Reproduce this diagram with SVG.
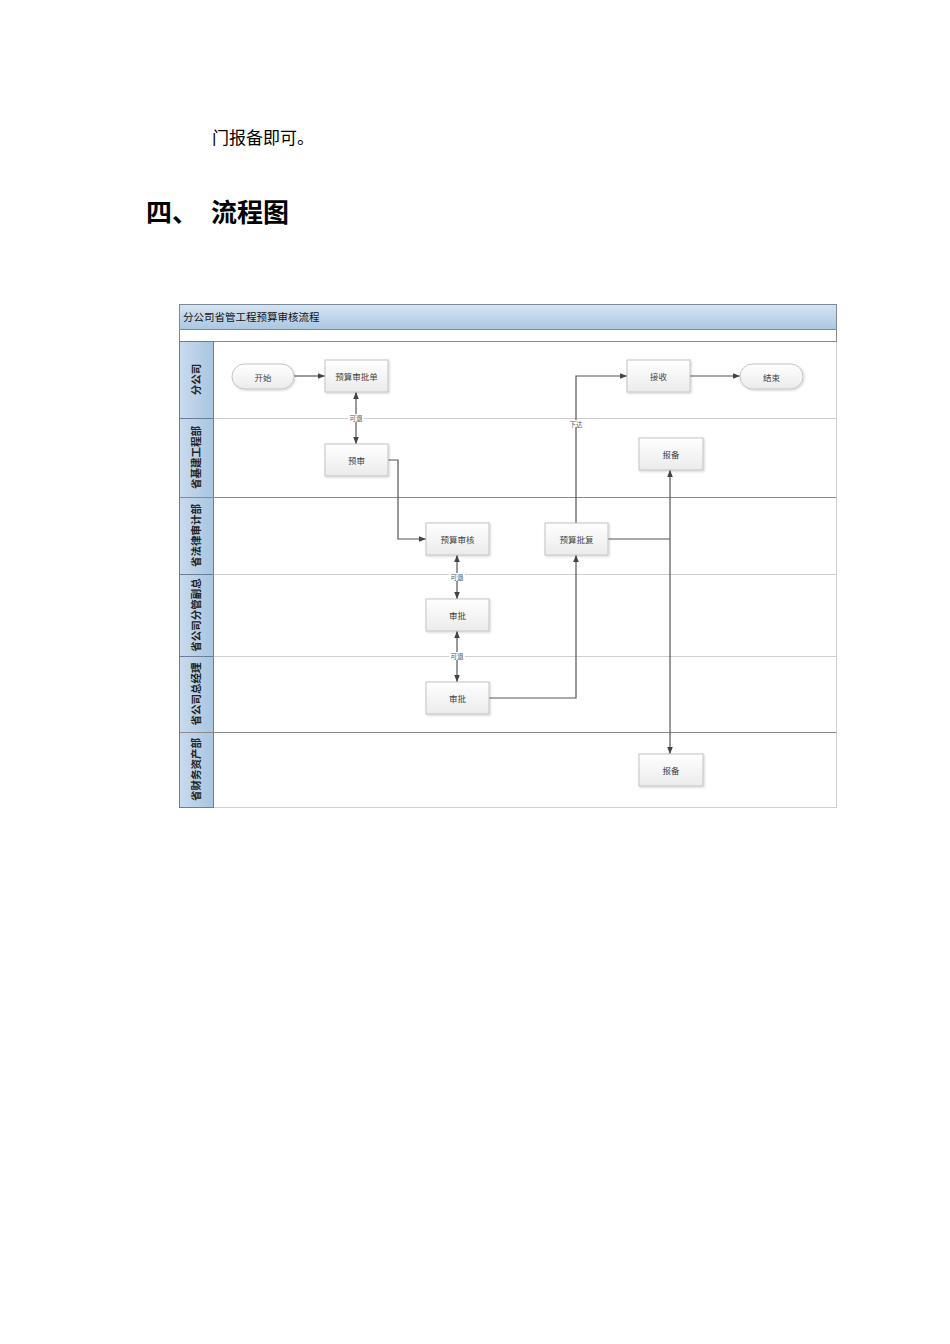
<svg xmlns="http://www.w3.org/2000/svg" width="950" height="1344" viewBox="0 0 950 1344">
<defs>
<linearGradient id="gTitle" x1="0" y1="0" x2="0" y2="1">
<stop offset="0" stop-color="#d6e4f1"/>
<stop offset="1" stop-color="#aac7e3"/>
</linearGradient>
<linearGradient id="gLane" x1="0" y1="0" x2="1" y2="0">
<stop offset="0" stop-color="#c9dbee"/>
<stop offset="1" stop-color="#a9c5e1"/>
</linearGradient>
<linearGradient id="gNode" x1="0" y1="0" x2="0" y2="1">
<stop offset="0" stop-color="#ffffff"/>
<stop offset="1" stop-color="#ebebeb"/>
</linearGradient>
<marker id="arr" viewBox="0 0 10 10" refX="10" refY="5" markerWidth="7" markerHeight="7" orient="auto-start-reverse" markerUnits="userSpaceOnUse">
<path d="M0,1 L10,5 L0,9 Z" fill="#444"/>
</marker>
<filter id="sh" x="-10%" y="-10%" width="125%" height="130%">
<feDropShadow dx="1" dy="1" stdDeviation="0.8" flood-color="#000" flood-opacity="0.18"/>
</filter>
</defs>
<style>
.doc{font-family:"Liberation Serif","Noto Sans CJK SC",serif;fill:#000}
.h{font-family:"Noto Sans CJK SC",sans-serif;font-weight:bold;fill:#000}
.title{font-family:"Noto Sans CJK SC",sans-serif;font-size:10.5px;fill:#111}
.lane{font-family:"Noto Sans CJK SC",sans-serif;font-size:10.5px;font-weight:bold;fill:#222}
.box{fill:url(#gNode);stroke:#c4c4c4;stroke-width:1;filter:url(#sh)}
.nt{font-family:"Noto Sans CJK SC",sans-serif;font-size:8.5px;fill:#444;text-anchor:middle;dominant-baseline:central}
.c{fill:none;stroke:#555;stroke-width:1.2}
.lbl{font-family:"Noto Sans CJK SC",sans-serif;font-size:6.5px;fill:#555;text-anchor:middle;dominant-baseline:central}
</style>
<rect width="950" height="1344" fill="#fff"/>
<text class="doc" x="212" y="144" font-size="17">门报备即可。</text>
<text class="h" x="146" y="222" font-size="26">四、</text>
<text class="h" x="211" y="222" font-size="26">流程图</text>

<g id="pool">
<rect x="179.5" y="304.5" width="657" height="503" fill="#fff" stroke="#cfcfcf"/>
<rect x="179.5" y="304.5" width="657" height="25" fill="url(#gTitle)" stroke="#7a8a9a"/>
<text class="title" x="183" y="320.5">分公司省管工程预算审核流程</text>
<rect x="179.5" y="329.5" width="657" height="12" fill="#fff" stroke="#888"/>
<rect x="179.5" y="341.5" width="34" height="466" fill="url(#gLane)" stroke="#6a7f95"/>
<line x1="213.5" y1="418.5" x2="836.5" y2="418.5" stroke="#cfcfcf"/>
<line x1="179.5" y1="418.5" x2="213.5" y2="418.5" stroke="#6a7f95"/>
<line x1="179.5" y1="497.5" x2="836.5" y2="497.5" stroke="#8a8a8a"/>
<line x1="213.5" y1="574.5" x2="836.5" y2="574.5" stroke="#cfcfcf"/>
<line x1="179.5" y1="574.5" x2="213.5" y2="574.5" stroke="#6a7f95"/>
<line x1="213.5" y1="656.5" x2="836.5" y2="656.5" stroke="#cfcfcf"/>
<line x1="179.5" y1="656.5" x2="213.5" y2="656.5" stroke="#6a7f95"/>
<line x1="179.5" y1="732.5" x2="836.5" y2="732.5" stroke="#8a8a8a"/>
<line x1="179.5" y1="341.5" x2="179.5" y2="807.5" stroke="#6a7f95"/>
</g>

<g id="lanes">
<text class="lane" transform="translate(200,379.5) rotate(-90)" text-anchor="middle">分公司</text>
<text class="lane" transform="translate(200,457.5) rotate(-90)" text-anchor="middle">省基建工程部</text>
<text class="lane" transform="translate(200,535.5) rotate(-90)" text-anchor="middle">省法律审计部</text>
<text class="lane" transform="translate(200,615) rotate(-90)" text-anchor="middle">省公司分管副总</text>
<text class="lane" transform="translate(200,694) rotate(-90)" text-anchor="middle">省公司总经理</text>
<text class="lane" transform="translate(200,769.5) rotate(-90)" text-anchor="middle">省财务资产部</text>
</g>

<g id="connectors">
<line class="c" x1="294" y1="376" x2="325" y2="376" marker-end="url(#arr)"/>
<line class="c" x1="356" y1="392" x2="356" y2="444" marker-start="url(#arr)" marker-end="url(#arr)"/>
<polyline class="c" points="388,460 398,460 398,539 426,539" marker-end="url(#arr)"/>
<line class="c" x1="457" y1="555" x2="457" y2="599" marker-start="url(#arr)" marker-end="url(#arr)"/>
<line class="c" x1="457" y1="631" x2="457" y2="682" marker-start="url(#arr)" marker-end="url(#arr)"/>
<polyline class="c" points="489,698 576,698 576,555" marker-end="url(#arr)"/>
<polyline class="c" points="576,523 576,376 627,376" marker-end="url(#arr)"/>
<line class="c" x1="690" y1="376" x2="740" y2="376" marker-end="url(#arr)"/>
<line class="c" x1="608" y1="539" x2="670" y2="539"/>
<line class="c" x1="670" y1="470" x2="670" y2="754" marker-start="url(#arr)" marker-end="url(#arr)"/>
<rect x="348" y="414" width="16" height="8" fill="#fff"/>
<text class="lbl" x="356" y="418">可退</text>
<rect x="449" y="573" width="16" height="8" fill="#fff"/>
<text class="lbl" x="457" y="577">可退</text>
<rect x="449" y="652" width="16" height="8" fill="#fff"/>
<text class="lbl" x="457" y="656">可退</text>
<rect x="568" y="420" width="16" height="7" fill="#fff"/>
<text class="lbl" x="576" y="424">下达</text>
</g>

<g id="n-start"><rect class="box" x="232" y="364" width="62" height="25" rx="12.5"/><text class="nt" x="263" y="376.5">开始</text></g>
<g id="n-ysspd"><rect class="box" x="325" y="360" width="63" height="32"/><text class="nt" x="356.5" y="376">预算审批单</text></g>
<g id="n-ys"><rect class="box" x="325" y="444" width="63" height="32"/><text class="nt" x="356.5" y="460">预审</text></g>
<g id="n-js"><rect class="box" x="627" y="360" width="63" height="32"/><text class="nt" x="658.5" y="376">接收</text></g>
<g id="n-end"><rect class="box" x="740" y="364" width="63" height="25" rx="12.5"/><text class="nt" x="771.5" y="376.5">结束</text></g>
<g id="n-bb1"><rect class="box" x="639" y="438" width="64" height="32"/><text class="nt" x="671" y="454">报备</text></g>
<g id="n-yssh"><rect class="box" x="426" y="523" width="63" height="32"/><text class="nt" x="457.5" y="539">预算审核</text></g>
<g id="n-yspf"><rect class="box" x="545" y="523" width="63" height="32"/><text class="nt" x="576.5" y="539">预算批复</text></g>
<g id="n-sp1"><rect class="box" x="426" y="599" width="63" height="32"/><text class="nt" x="457.5" y="615">审批</text></g>
<g id="n-sp2"><rect class="box" x="426" y="682" width="63" height="32"/><text class="nt" x="457.5" y="698">审批</text></g>
<g id="n-bb2"><rect class="box" x="639" y="754" width="64" height="32"/><text class="nt" x="671" y="770">报备</text></g>
</svg>
